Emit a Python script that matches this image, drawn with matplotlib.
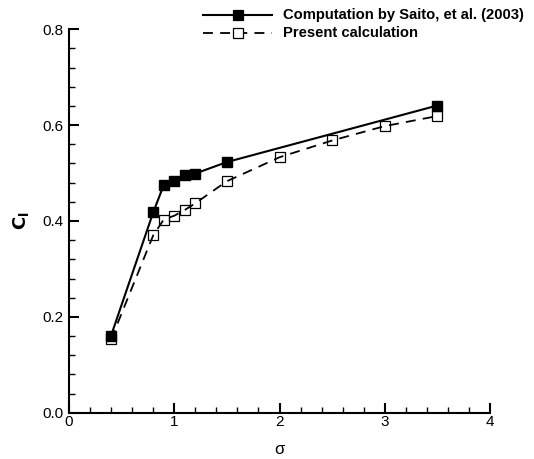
import matplotlib
matplotlib.use("Agg")
import matplotlib.pyplot as plt
from matplotlib.lines import Line2D
from matplotlib.ticker import MultipleLocator, FormatStrFormatter

plt.rcParams['font.family'] = ['Liberation Sans', 'DejaVu Sans']

sigma_saito = [0.4, 0.8, 0.9, 1.0, 1.1, 1.2, 1.5, 3.5]
cl_saito = [0.161, 0.418, 0.475, 0.483, 0.495, 0.499, 0.523, 0.641]
sigma_present = [0.4, 0.8, 0.9, 1.0, 1.1, 1.2, 1.5, 2.0, 2.5, 3.0, 3.5]
cl_present = [0.153, 0.370, 0.403, 0.411, 0.423, 0.437, 0.483, 0.533, 0.568, 0.598, 0.619]
labels = ["Computation by Saito, et al. (2003)", "Present calculation"]

W, H = 534, 459
fig = plt.figure(figsize=(W / 100, H / 100), dpi=100)
ax = fig.add_axes([69 / W, 1 - 412.7 / H, (490 - 69) / W, (412.7 - 29.3) / H])

DASH = (0, (5.5, 4))
ax.plot(sigma_saito, cl_saito, color='black', lw=1.5, marker='s', ms=6.8,
        mfc='black', mec='black', zorder=3)
ax.plot(sigma_present, cl_present, color='black', lw=1.3, ls=DASH,
        marker='s', ms=6.8, mfc='none', mec='black', mew=0.9, zorder=2)

ax.set_xlim(0, 4)
ax.set_ylim(0, 0.8)
ax.xaxis.set_major_locator(MultipleLocator(1))
ax.xaxis.set_minor_locator(MultipleLocator(0.2))
ax.yaxis.set_major_locator(MultipleLocator(0.2))
ax.yaxis.set_minor_locator(MultipleLocator(0.04))
ax.xaxis.set_major_formatter(FormatStrFormatter('%g'))
ax.yaxis.set_major_formatter(FormatStrFormatter('%.1f'))
for s in ['top', 'right']:
    ax.spines[s].set_visible(False)
for s in ['left', 'bottom']:
    ax.spines[s].set_linewidth(1.5)
ax.tick_params(which='major', direction='in', length=7.5, width=1.5, labelsize=11, pad=2)
ax.tick_params(axis='y', which='major', pad=4)
ax.tick_params(which='minor', direction='in', length=4.5, width=1.0)

ax.set_xlabel('σ', fontsize=12, labelpad=9)
ax.set_ylabel(r'$\mathbf{C}_{\mathbf{l}}$', fontsize=13, labelpad=8)

# legend (drawn in figure pixel coords)
def leg_line(y, ls, mfc, lw):
    fig.add_artist(Line2D([203 / W, 272 / W], [1 - y / H, 1 - y / H], color='black', lw=lw,
                          ls=ls, transform=fig.transFigure))
    fig.add_artist(Line2D([238 / W], [1 - y / H], color='black', marker='s', ms=6.8,
                          mfc=mfc, mec='black', mew=0.9, ls='none', transform=fig.transFigure))

leg_line(15, '-', 'black', 1.5)
leg_line(33, DASH, 'white', 1.3)
fig.text(283 / W, 1 - 15 / H, labels[0], fontsize=10.6, fontweight='bold', va='center', ha='left')
fig.text(283 / W, 1 - 33 / H, labels[1], fontsize=10.6, fontweight='bold', va='center', ha='left')

fig.savefig('out.png', dpi=100)
